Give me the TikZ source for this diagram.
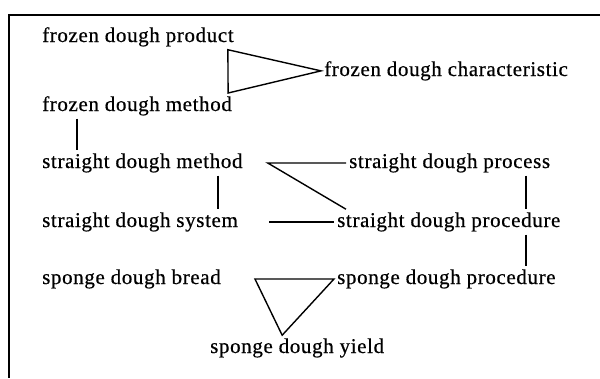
\documentclass[tikz,border=0pt]{standalone}
\usepackage{fontspec}
\setmainfont[LetterSpace=3,FakeBold=0.5]{Liberation Serif}
\usepackage{tikz}

\tikzset{term/.style={anchor=base west,inner sep=3pt,font=\fontsize{21}{24}\selectfont},
  link/.style={line width=1.4pt}}

\begin{document}
\begin{tikzpicture}[x=1pt,y=-1pt]
\useasboundingbox (0,0) rectangle (600,378);
\draw[line width=1.4pt] (600,15) -- (9,15) -- (9,378);

\node[term] (prod) at (39,42) {frozen dough product};
\node[term] (meth) at (39,111) {frozen dough method};
\node[term] (charac) at (321,76) {frozen dough characteristic};
\node[term] (sdmeth) at (39,168) {straight dough method};
\node[term] (sdproc) at (346,168) {straight dough process};
\node[term] (sdsys) at (39,227) {straight dough system};
\node[term] (sdprocd) at (334,227) {straight dough procedure};
\node[term] (spbread) at (39,284) {sponge dough bread};
\node[term] (spproc) at (334,284) {sponge dough procedure};
\node[term] (spyield) at (207,353) {sponge dough yield};

\draw[link] ([xshift=-9pt]prod.south east) -- (charac.west) -- ([xshift=-7pt]meth.north east) -- cycle;
\draw[link] ([xshift=38pt]meth.south west) -- ([xshift=38pt]sdmeth.north west);
\draw[link] ([xshift=179pt]sdmeth.south west) -- ([xshift=179pt]sdsys.north west);
\draw[link] (sdproc.west) -- ([xshift=22pt]sdmeth.east) -- ([xshift=12pt]sdprocd.north west);
\draw[link] ([xshift=28pt]sdsys.east) -- (sdprocd.west);
\draw[link] ([xshift=180pt]sdproc.south west) -- ([xshift=192pt]sdprocd.north west);
\draw[link] ([xshift=192pt]sdprocd.south west) -- ([xshift=192pt]spproc.north west);
\draw[link] ([xshift=31pt]spbread.east) -- (spproc.west) -- ([xshift=-15pt]spyield.north) -- cycle;
\end{tikzpicture}
\end{document}
